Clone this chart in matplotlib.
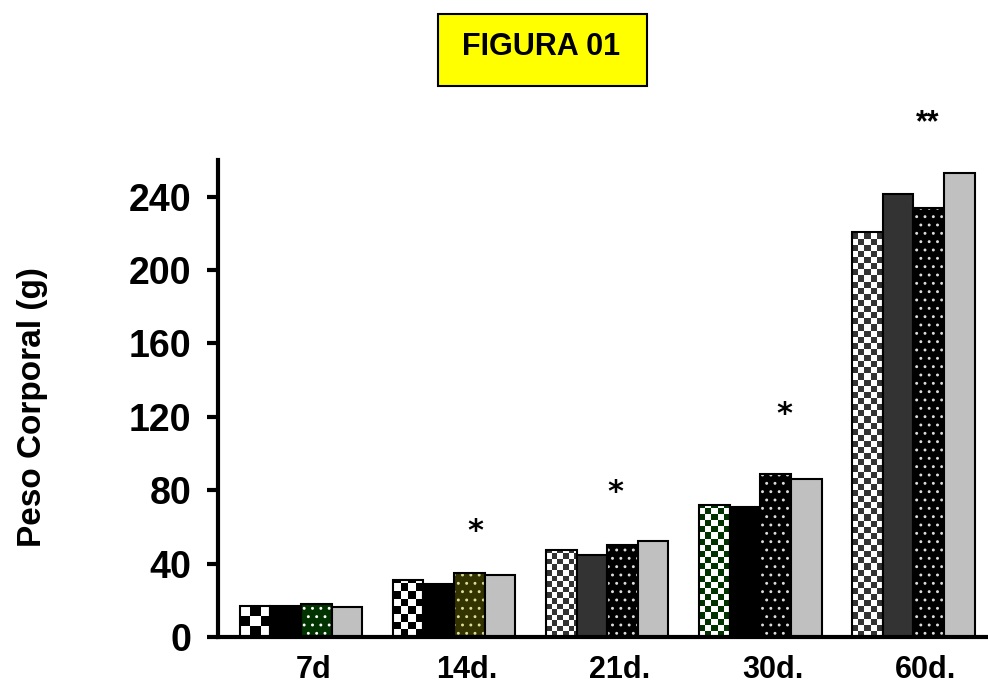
import numpy as np
import matplotlib
matplotlib.use("Agg")
import matplotlib.pyplot as plt
from matplotlib.colors import ListedColormap
from matplotlib.patches import Rectangle
from matplotlib import transforms

# ---------------- data ----------------
groups = ["7d", "14d.", "21d.", "30d.", "60d."]
serie1 = [16.9, 30.9, 47.3, 72.2, 220.6]
serie2 = [16.9, 28.7, 44.6, 70.9, 241.7]
serie3 = [18.2, 34.7, 50.0, 88.8, 233.8]
serie4 = [16.4, 33.8, 52.4, 86.0, 253.0]
yticks = [0, 40, 80, 120, 160, 200, 240]

star_x = [1.137, 2.05, 3.16, 4.09]
star_y = [61.4, 82.5, 124.8, 283.9]
star_txt = ["*", "*", "*", "**"]

# ---------------- styles ----------------
check_dark = ["black", "black", "#333333", "#003300", "#333333"]
check_cols = [3, 4, 5.5, 5, 5]
s2_color = ["black", "black", "#333333", "black", "#333333"]
s3_color = ["#003300", "#333300", "black", "black", "black"]
s3_dot = ["white", "#dddd99", "#dddddd", "#dddddd", "#dddddd"]
s4_color = "#c0c0c0"

plt.rcParams['font.family'] = ['Liberation Sans', 'DejaVu Sans']
plt.rcParams['hatch.linewidth'] = 0.9

fig = plt.figure(figsize=(9.88, 6.84), dpi=100)
ax = fig.add_axes([218/988, 47/684, 770/988, 477/684])
ax.set_xlim(-0.542, 4.487)
ax.set_ylim(0, 260)

x = np.arange(len(groups))
w = 0.2
offs = [-1.5*w, -0.5*w, 0.5*w, 1.5*w]

# series 1: checker filled bars
b1 = ax.bar(x + offs[0], serie1, w, fill=False, edgecolor="black", linewidth=1.5, zorder=2)
fig.canvas.draw()
for i, rect in enumerate(b1):
    x0 = rect.get_x(); x1 = x0 + rect.get_width(); h = rect.get_height()
    p0 = ax.transData.transform((x0, 0)); p1 = ax.transData.transform((x1, h))
    wpx = p1[0] - p0[0]; hpx = p1[1] - p0[1]
    cell = wpx / check_cols[i]
    nc = int(np.ceil(check_cols[i])) + 1
    nr = int(np.ceil(hpx / cell)) + 1
    arr = (np.add.outer(np.arange(nr), np.arange(nc)) % 2).astype(float)
    cdx = rect.get_width() / check_cols[i]
    cdy = cell * (260 / ax.bbox.height)
    im = ax.imshow(arr, cmap=ListedColormap(["white", check_dark[i]]), origin="lower",
                   extent=(x0, x0 + nc*cdx, 0, nr*cdy), interpolation="nearest",
                   aspect="auto", zorder=1.5)
    im.set_clip_path(rect)
ax.set_xlim(-0.542, 4.487)
ax.set_ylim(0, 260)

# series 2: solid
ax.bar(x + offs[1], serie2, w, color=s2_color, edgecolor="black", linewidth=1.5, zorder=2)

# series 3: dotted
for i in range(len(groups)):
    ax.bar(x[i] + offs[2], serie3[i], w, color=s3_color[i], edgecolor=s3_dot[i],
           linewidth=0, hatch="..", zorder=1.6)
ax.bar(x + offs[2], serie3, w, fill=False, edgecolor="black", linewidth=1.5, zorder=2)

# series 4: gray
ax.bar(x + offs[3], serie4, w, color=s4_color, edgecolor="black", linewidth=1.5, zorder=2)

# stars (glyph sits above the text centre, shift down a little)
star_tr = transforms.offset_copy(ax.transData, fig=fig, y=-5, units="points")
for sx, sy, st in zip(star_x, star_y, star_txt):
    ax.text(sx, sy, st, ha="center", va="center", fontsize=22,
            family=["DejaVu Sans"] if st == "*" else ["Liberation Sans"],
            fontweight="bold", clip_on=False, transform=star_tr)

# axes styling
for s in ["top", "right"]:
    ax.spines[s].set_visible(False)
ax.spines["left"].set_linewidth(3)
ax.spines["bottom"].set_linewidth(3)
ax.set_yticks(yticks)
ax.set_yticklabels([str(v) for v in yticks], fontsize=27, fontweight="bold")
ax.tick_params(axis="y", length=8, width=3, pad=11)
ax.set_xticks(x + 0.08)
ax.set_xticklabels(groups, fontsize=22, fontweight="bold")
ax.tick_params(axis="x", length=0, pad=13)
ax.set_ylabel("Peso Corporal (g)", fontsize=24, fontweight="bold")
ax.yaxis.set_label_coords(-0.2208, 0.482)

# title box
fig.patches.append(Rectangle((438/988, 1 - 86/684), 209/988, 72/684,
                             transform=fig.transFigure, facecolor="#ffff00",
                             edgecolor="black", linewidth=1.5, zorder=0))
fig.text(541/988, 1 - 55/684, "FIGURA 01", ha="center", va="baseline",
         fontsize=22, fontweight="bold")

fig.savefig("out.png", dpi=100)
